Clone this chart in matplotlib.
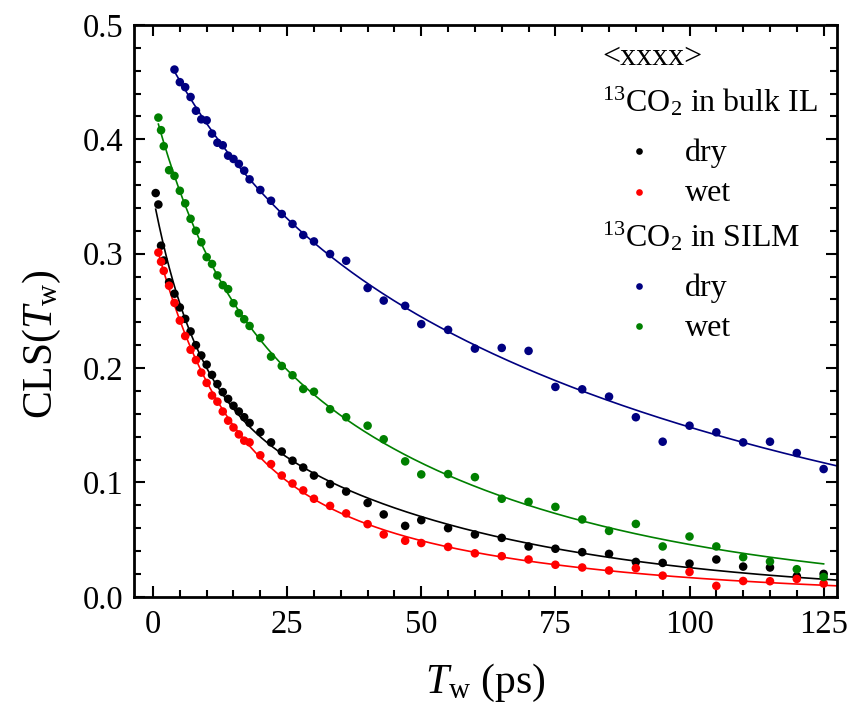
import numpy as np
import matplotlib.pyplot as plt

plt.rcParams['font.family'] = ['Liberation Serif', 'DejaVu Serif']
plt.rcParams['mathtext.fontset'] = 'custom'
plt.rcParams['mathtext.rm'] = 'Liberation Serif'
plt.rcParams['mathtext.it'] = 'Liberation Serif:italic'

# 13CO2 in bulk IL, dry
bulk_dry_t = [0.5, 1, 1.5, 2, 3, 4, 5, 6, 7, 8, 9, 10, 11, 12, 13, 14, 15, 16, 17, 18,
              20, 22, 24, 26, 28, 30, 33, 36, 40, 43, 47, 50, 55, 60, 65, 70, 75, 80,
              85, 90, 95, 100, 105, 110, 115, 120, 125]
bulk_dry_cls = [0.353, 0.343, 0.307, 0.294, 0.275, 0.265, 0.253, 0.243, 0.232, 0.220,
                0.211, 0.203, 0.194, 0.186, 0.179, 0.173, 0.167, 0.162, 0.157, 0.152,
                0.144, 0.135, 0.127, 0.119, 0.113, 0.106, 0.0985, 0.092, 0.082, 0.072,
                0.062, 0.067, 0.060, 0.0545, 0.0515, 0.044, 0.042, 0.039, 0.0375, 0.0305,
                0.0296, 0.029, 0.0326, 0.0264, 0.0256, 0.018, 0.020]

# 13CO2 in bulk IL, wet
bulk_wet_t = [1, 1.5, 2, 3, 4, 5, 6, 7, 8, 9, 10, 11, 12, 13, 14, 15, 16, 17, 18,
              20, 22, 24, 26, 28, 30, 33, 36, 40, 43, 47, 50, 55, 60, 65, 70, 75, 80,
              85, 90, 95, 100, 105, 110, 115, 120, 125]
bulk_wet_cls = [0.301, 0.293, 0.285, 0.272, 0.257, 0.2415, 0.228, 0.216, 0.207, 0.196,
                0.187, 0.176, 0.1706, 0.162, 0.154, 0.148, 0.142, 0.1365, 0.135,
                0.1237, 0.116, 0.106, 0.099, 0.093, 0.0857, 0.0795, 0.0729, 0.0635, 0.0545,
                0.049, 0.047, 0.0436, 0.038, 0.0355, 0.0326, 0.028, 0.0256, 0.023, 0.025,
                0.0185, 0.0217, 0.0095, 0.0138, 0.0136, 0.0156, 0.0116]

# 13CO2 in SILM, dry
silm_dry_t = [4, 5, 6, 7, 8, 9, 10, 11, 12, 13, 14, 15, 16, 17, 18, 20, 22, 24, 26, 28,
              30, 33, 36, 40, 43, 47, 50, 55, 60, 65, 70, 75, 80, 85, 90, 95, 100, 105,
              110, 115, 120, 125]
silm_dry_cls = [0.461, 0.450, 0.4456, 0.437, 0.425, 0.4175, 0.4166, 0.405, 0.397, 0.3948,
                0.3857, 0.3828, 0.3785, 0.3726, 0.365, 0.3557, 0.3463, 0.3347, 0.326,
                0.3163, 0.3107, 0.2997, 0.2938, 0.270, 0.259, 0.2544, 0.2384, 0.2334,
                0.217, 0.2176, 0.215, 0.1835, 0.1814, 0.175, 0.157, 0.1356, 0.1496,
                0.1438, 0.135, 0.1356, 0.1257, 0.1117]

# 13CO2 in SILM, wet
silm_wet_t = [1, 1.5, 2, 3, 4, 5, 6, 7, 8, 9, 10, 11, 12, 13, 14, 15, 16, 17, 18,
              20, 22, 24, 26, 28, 30, 33, 36, 40, 43, 47, 50, 55, 60, 65, 70, 75, 80,
              85, 90, 95, 100, 105, 110, 115, 120, 125]
silm_wet_cls = [0.419, 0.408, 0.394, 0.373, 0.368, 0.355, 0.344, 0.3305, 0.320, 0.310,
                0.297, 0.291, 0.281, 0.2725, 0.269, 0.2567, 0.248, 0.2427, 0.2368,
                0.2263, 0.210, 0.2018, 0.1937, 0.1817, 0.1793, 0.164, 0.157, 0.1496,
                0.1377, 0.1184, 0.107, 0.1073, 0.1046, 0.0857, 0.083, 0.0786, 0.0676,
                0.0576, 0.0637, 0.044, 0.0527, 0.044, 0.0346, 0.0308, 0.0241, 0.0173]


def biexp_fit(t, y):
    # brute force over the two time constants, amplitudes by least squares
    t = np.asarray(t, float)
    y = np.asarray(y, float)
    best = None
    for t1 in np.logspace(-0.7, 1.7, 60):
        for t2 in np.logspace(0.8, 3, 60):
            if t2 <= t1:
                continue
            A = np.column_stack([np.exp(-t / t1), np.exp(-t / t2)])
            amp, *_ = np.linalg.lstsq(A, y, rcond=None)
            err = np.sum((A @ amp - y) ** 2)
            if best is None or err < best[0]:
                best = (err, t1, t2, amp)
    _, t1, t2, amp = best
    return lambda x: amp[0] * np.exp(-x / t1) + amp[1] * np.exp(-x / t2)


series = [
    (bulk_dry_t, bulk_dry_cls, 'black', 127.5),
    (bulk_wet_t, bulk_wet_cls, '#ff0000', 127.5),
    (silm_dry_t, silm_dry_cls, '#000080', 127.5),
    (silm_wet_t, silm_wet_cls, '#008000', 125),
]

fig = plt.figure(figsize=(8.55, 7.13), dpi=100)
ax = fig.add_axes([0.157, 0.163, 0.822, 0.802])

for t, y, c, tend in series:
    f = biexp_fit(t, y)
    xs = np.linspace(t[0], tend, 400)
    ax.plot(xs, f(xs), color=c, lw=1.2, zorder=2)
    ax.scatter(t, y, s=38, color=c, edgecolors='none', zorder=3)

ax.set_xlim(-3.5, 127.5)
ax.set_ylim(0, 0.5)
ax.set_xticks([0, 25, 50, 75, 100, 125])
ax.set_xticks(np.arange(0, 126, 5), minor=True)
ax.set_yticks([0.0, 0.1, 0.2, 0.3, 0.4, 0.5])
ax.set_yticks(np.arange(0, 0.501, 0.02), minor=True)
ax.set_yticklabels(['0.0', '0.1', '0.2', '0.3', '0.4', '0.5'])
ax.tick_params(which='both', direction='in', top=True, right=True, width=1.5,
               labelsize=23.5)
ax.tick_params(axis='x', pad=9)
ax.tick_params(axis='y', pad=8)
ax.tick_params(which='major', length=8)
ax.tick_params(which='minor', length=5)
for sp in ax.spines.values():
    sp.set_linewidth(2)

ax.set_xlabel(r'$\mathit{T}_{\mathrm{w}}$ (ps)', fontsize=30, labelpad=16)
ax.set_ylabel(r'CLS($\mathit{T}_{\mathrm{w}}$)', fontsize=30, labelpad=14)
ax.yaxis.label.set_y(0.442)

# legend drawn by hand: section headers and dot entries
hx, mx, tx = 0.666, 0.718, 0.784
ax.text(hx, 0.930, '<xxxx>', transform=ax.transAxes, fontsize=23)
ax.text(hx, 0.848, r'$^{13}$CO$_2$ in bulk IL', transform=ax.transAxes, fontsize=23)
ax.text(hx, 0.613, r'$^{13}$CO$_2$ in SILM', transform=ax.transAxes, fontsize=23)
entries = [(0.780, 0.7626, 'black', 'dry'), (0.7083, 0.6926, '#ff0000', 'wet'),
           (0.5433, 0.5263, '#000080', 'dry'), (0.4733, 0.4563, '#008000', 'wet')]
for ym, yt, c, lab in entries:
    ax.plot([mx], [ym], 'o', ms=4.8, color=c, mec='none', transform=ax.transAxes)
    ax.text(tx, yt, lab, transform=ax.transAxes, fontsize=23)

fig.savefig('out.png', dpi=100)
